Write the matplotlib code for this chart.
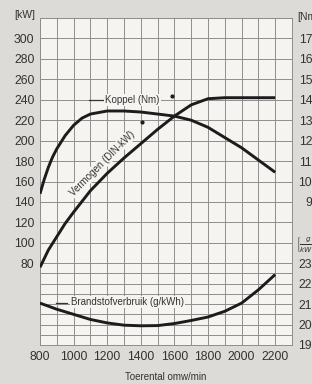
import numpy as np
import matplotlib
matplotlib.use("Agg")
import matplotlib.pyplot as plt

plt.rcParams['font.family'] = ['Liberation Sans', 'DejaVu Sans']

# =============================
#  Data
# =============================
# torque, in Nm, drawn against the kW grid (Nm = kW/2 + 20)
rpm_torque = [800, 825, 850, 875, 900, 950, 1000, 1050, 1100, 1200, 1300, 1400,
              1500, 1600, 1700, 1800, 1900, 2000, 2100, 2200]
torque_nm = [94, 101, 107, 112, 116, 122.5, 127.5, 131, 133, 134.5, 134.5, 134,
             133, 132, 130, 126.5, 121.5, 116.5, 110.5, 104.5]

# power, DIN-kW
rpm_power = [800, 850, 900, 950, 1000, 1100, 1200, 1300, 1400, 1500, 1600,
             1700, 1800, 1900, 2000, 2100, 2200]
power_kw = [76, 93, 106, 119, 130, 151, 168, 183, 197, 211, 224,
            235, 241, 242, 242, 242, 242]

# specific fuel consumption, g/kWh (drawn against kW grid: kW = (g - 190) * 2)
rpm_fuel = [800, 900, 1000, 1100, 1200, 1300, 1400, 1500, 1600, 1700, 1800,
            1900, 2000, 2100, 2200]
fuel_g = [210.5, 207.5, 205, 202.5, 200.8, 199.7, 199.4, 199.5, 200.5, 202,
          203.7, 206.5, 210.5, 217, 224.5]

kw_ticks = list(range(80, 301, 20))
nm_ticks = list(range(90, 171, 10))
fuel_ticks = list(range(190, 231, 10))
x_ticks = list(range(800, 2201, 200))

BG = "#dddbd7"
PANEL = "#f6f4f0"
GRID = "#8e8e8e"
INK = "#1c1c1c"
TXT = "#333333"

# =============================
#  Figure
# =============================
fig = plt.figure(figsize=(3.12, 3.84), dpi=100, facecolor=BG)
ax = fig.add_axes([40/312, 1 - 345/384, 252/312, 327/384])
ax.set_facecolor(PANEL)
ax.set_xlim(800, 2300)
ax.set_ylim(0, 320)

# grid: 20 kW steps above 80, 10 kW steps below
for y in list(range(0, 80, 10)) + list(range(80, 321, 20)):
    ax.axhline(y, color=GRID, lw=0.7, zorder=1)
for x in range(800, 2301, 100):
    ax.axvline(x, color=GRID, lw=0.7, zorder=1)
for s in ax.spines.values():
    s.set_color(GRID)
    s.set_linewidth(0.7)

ax.set_xticks(x_ticks)
ax.set_yticks(kw_ticks)
ax.tick_params(length=0, labelsize=8.8, colors=TXT, pad=4)
ax.set_xlabel("Toerental omw/min", fontsize=7, color=TXT, labelpad=6.5)

# right hand scales (cut off by the page edge, as in the original)
ax_nm = ax.twinx()
ax_nm.set_ylim(0/2 + 20, 320/2 + 20)
ax_nm.set_yticks(nm_ticks)
ax_fu = ax.twinx()
ax_fu.set_ylim(190, 190 + 320/2)
ax_fu.set_yticks(fuel_ticks)
for a in (ax_nm, ax_fu):
    a.tick_params(length=0, labelsize=8.8, colors=TXT, pad=19.5)
    for lbl in a.get_yticklabels():
        lbl.set_horizontalalignment("right")
    for s in a.spines.values():
        s.set_visible(False)

# curves
ax_nm.plot(rpm_torque, torque_nm, color=INK, lw=2.1, solid_capstyle="butt", zorder=4)
ax.plot(rpm_power, power_kw, color=INK, lw=2.1, solid_capstyle="butt", zorder=4)
ax_fu.plot(rpm_fuel, fuel_g, color=INK, lw=2.1, solid_capstyle="butt", zorder=4)

# labels on the curves
box = dict(boxstyle="square,pad=0.1", fc=PANEL, ec="none")
ax.plot([1090, 1178], [240, 240], color=TXT, lw=0.9, zorder=3)
ax.text(1188, 240, "Koppel (Nm)", fontsize=7, color=TXT, va="center",
        ha="left", bbox=box, zorder=5)
ax.plot([1585], [243.5], "o", ms=2, color=INK, zorder=5)

ax.text(1172, 178, "Vermogen (DIN-kW)", fontsize=7, color=TXT, rotation=45,
        rotation_mode="anchor", ha="center", va="center", bbox=box, zorder=5)
ax.plot([1405], [218], "o", ms=2, color=INK, zorder=5)

ax.plot([895, 960], [41, 41], color=TXT, lw=0.9, zorder=3)
ax.text(982, 42, "Brandstofverbruik (g/kWh)", fontsize=7, color=TXT,
        va="center", ha="left", bbox=box, zorder=5)

# unit labels
fig.text(35/312, 1 - 15/384, "[kW]", fontsize=7.5, color=TXT, ha="right", va="center")
fig.text(297/312, 1 - 17/384, "[Nm]", fontsize=7.5, color=TXT, ha="left", va="center")
fig.text(296/312, 1 - 245/384, r"$\left[\frac{g}{kWh}\right]$", fontsize=7.5,
         color=TXT, ha="left", va="center")

fig.savefig("out.png", dpi=100, facecolor=BG)
